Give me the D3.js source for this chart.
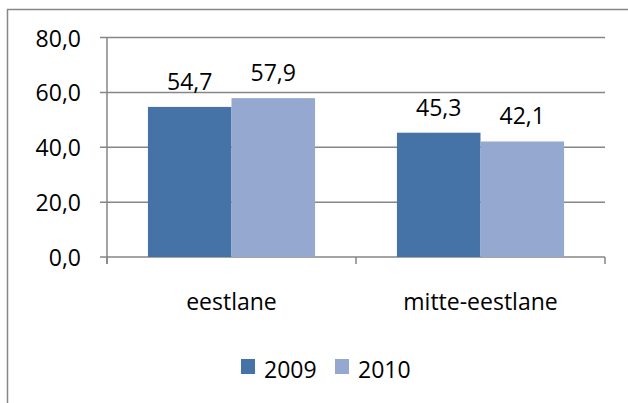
<!DOCTYPE html>
<html>
<head>
<meta charset="utf-8">
<script src="https://cdn.jsdelivr.net/npm/d3@7"></script>
<style>
  body { margin: 0; background: #fff; }
  text { font-family: "Open Sans", sans-serif; fill: #000; }
</style>
</head>
<body>
<div id="chart"></div>
<script>
// chart data
var categories = ["eestlane", "mitte-eestlane"];
var seriesNames = ["2009", "2010"];
var values2009 = [54.7, 45.3];
var values2010 = [57.9, 42.1];
var yTicks = [0, 20, 40, 60, 80];
var colors = ["#4572a7", "#95a8d0"];

var svgWidth = 628;
var svgHeight = 403;

var plot = { left: 107, right: 605, top: 37.5, bottom: 257 };

var svg = d3.select("#chart")
  .append("svg")
  .attr("width", svgWidth)
  .attr("height", svgHeight);

// outer chart border (right and bottom edges run off the page)
svg.append("rect")
  .attr("x", 7.5)
  .attr("y", 9.5)
  .attr("width", 700)
  .attr("height", 500)
  .attr("fill", "none")
  .attr("stroke", "#868686")
  .attr("stroke-width", 1.5);

var locale = d3.formatLocale({ decimal: ",", thousands: " ", grouping: [3], currency: ["", ""] });
var fmt = locale.format(".1f");

var x0 = d3.scaleBand()
  .domain(categories)
  .range([plot.left, plot.right])
  .padding(0);

var x1 = d3.scaleBand()
  .domain(seriesNames)
  .range([0, x0.bandwidth()])
  .paddingInner(0)
  .paddingOuter(0.49);

var y = d3.scaleLinear()
  .domain([0, 80])
  .range([plot.bottom, plot.top]);

// gridlines
svg.append("g")
  .selectAll("line")
  .data(yTicks)
  .enter()
  .append("line")
  .attr("x1", plot.left - 7)
  .attr("x2", plot.right)
  .attr("y1", d => y(d))
  .attr("y2", d => y(d))
  .attr("stroke", "#868686")
  .attr("stroke-width", 1.5);

// y axis line
svg.append("line")
  .attr("x1", plot.left)
  .attr("x2", plot.left)
  .attr("y1", plot.top)
  .attr("y2", plot.bottom + 7)
  .attr("stroke", "#868686")
  .attr("stroke-width", 1.5);

// category tick marks
var catEdges = [plot.left].concat(categories.map(c => x0(c) + x0.bandwidth()));
svg.append("g")
  .selectAll("line")
  .data(catEdges)
  .enter()
  .append("line")
  .attr("x1", d => d)
  .attr("x2", d => d)
  .attr("y1", plot.bottom)
  .attr("y2", plot.bottom + 7)
  .attr("stroke", "#868686")
  .attr("stroke-width", 1.5);

// y tick labels
svg.append("g")
  .selectAll("text")
  .data(yTicks)
  .enter()
  .append("text")
  .attr("x", 81)
  .attr("y", d => y(d) + 9)
  .attr("text-anchor", "end")
  .style("font-size", "23px")
  .text(d => fmt(d));

// bars
var rows = categories.map((c, i) => ({ cat: c, vals: [values2009[i], values2010[i]] }));

var groups = svg.append("g")
  .selectAll("g")
  .data(rows)
  .enter()
  .append("g")
  .attr("transform", d => `translate(${x0(d.cat)},0)`);

groups.selectAll("rect")
  .data(d => d.vals.map((v, j) => ({ s: seriesNames[j], v: v, j: j })))
  .enter()
  .append("rect")
  .attr("x", d => x1(d.s))
  .attr("y", d => y(d.v))
  .attr("width", x1.bandwidth())
  .attr("height", d => y(0) - y(d.v))
  .attr("fill", d => colors[d.j]);

groups.selectAll("text")
  .data(d => d.vals.map((v, j) => ({ s: seriesNames[j], v: v })))
  .enter()
  .append("text")
  .attr("x", d => x1(d.s) + x1.bandwidth() / 2)
  .attr("y", d => y(d.v) - 17)
  .attr("text-anchor", "middle")
  .style("font-size", "23px")
  .text(d => fmt(d.v));

// category labels
svg.append("g")
  .selectAll("text")
  .data(categories)
  .enter()
  .append("text")
  .attr("x", d => x0(d) + x0.bandwidth() / 2)
  .attr("y", 310)
  .attr("text-anchor", "middle")
  .style("font-size", "23px")
  .text(d => d);

// legend
var legendX = [241, 335];
var legend = svg.append("g")
  .selectAll("g")
  .data(seriesNames)
  .enter()
  .append("g")
  .attr("transform", (d, i) => `translate(${legendX[i]},359)`);

legend.append("rect")
  .attr("width", 14)
  .attr("height", 15)
  .attr("fill", (d, i) => colors[i]);

legend.append("text")
  .attr("x", 23)
  .attr("y", 19)
  .style("font-size", "23px")
  .text(d => d);
</script>
</body>
</html>
